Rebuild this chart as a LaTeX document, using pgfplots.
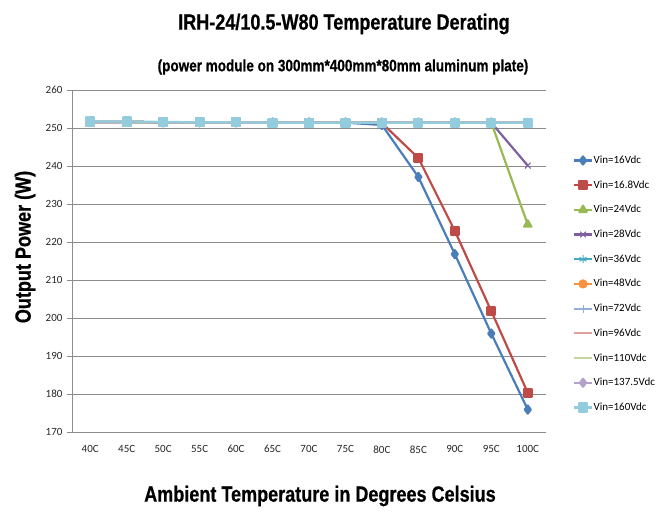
\documentclass[border=0pt]{standalone}
\usepackage{pgfplots}
\pgfplotsset{compat=1.18}
\usepackage{fontspec}
\setmainfont{Carlito}
\newfontfamily\cond[FakeStretch=0.82, BoldFeatures={FakeBold=0.6}]{Liberation Sans}
\definecolor{c1}{HTML}{4A7EBB}
\definecolor{c2}{HTML}{BE4B48}
\definecolor{c3}{HTML}{98B954}
\definecolor{c4}{HTML}{7D60A0}
\definecolor{c5}{HTML}{46AAC5}
\definecolor{c6}{HTML}{F69240}
\definecolor{c7}{HTML}{95AFD8}
\definecolor{c8}{HTML}{E0A09E}
\definecolor{c9}{HTML}{C3D69B}
\definecolor{c10}{HTML}{B3A2C7}
\definecolor{c11}{HTML}{93CDDD}
\definecolor{gridc}{HTML}{8C8C8C}
\begin{document}
\begin{tikzpicture}[x=1pt,y=1pt]
\path[use as bounding box] (0,0) rectangle (669,513);
\begin{axis}[
  at={(72pt,81pt)}, anchor=south west,
  scale only axis, width=474pt, height=342pt,
  xmin=-0.5, xmax=12.5, ymin=170, ymax=260,
  ytick distance=10,
  xtick={0,...,12},
  xticklabels={40C,45C,50C,55C,60C,65C,70C,75C,80C,85C,90C,95C,100C},
  major x tick style={draw=none},
  extra x ticks={-0.5,0.5,...,12.5},
  extra x tick style={xticklabel={}, major tick length=5pt, tick style={draw=gridc}, grid=none},
  axis lines*=left,
  axis line style={draw=gridc, line width=0.8pt},
  ymajorgrids, grid style={draw=gridc, line width=0.8pt},
  tick align=outside, major tick length=5pt,
  tick style={draw=gridc, line width=0.8pt},
  /pgf/number format/assume math mode=true,
  ticklabel style={font=\fontsize{11}{13}\selectfont, text=black!85},
  xticklabel style={yshift=-5pt},
  yticklabel style={xshift=-1pt},
  every axis plot/.append style={line width=2.2pt, line join=round},
  legend style={at={(1.051,0.818)}, anchor=north west, draw=none, fill=none,
    font=\fontsize{11}{13}\selectfont, row sep=12.7pt,
    nodes={inner sep=1pt, text height=8pt, text depth=2pt}},
  legend cell align=left,
  clip=false,
]
\addplot[color=c1, mark=diamond*, mark size=4pt, mark options={solid}] coordinates {
(0,251.6) (1,251.6) (2,251.5) (3,251.5) (4,251.5) (5,251.4) (6,251.4) (7,251.4) (8,250.8) (9,237.1) (10,216.8) (11,195.9) (12,175.9)};
\addlegendentry{Vin=16Vdc}
\addplot[color=c2, mark=square*, mark size=3.8pt] coordinates {
(0,251.6) (1,251.6) (2,251.5) (3,251.5) (4,251.5) (5,251.4) (6,251.4) (7,251.4) (8,251.3) (9,242.1) (10,222.9) (11,201.8) (12,180.3)};
\addlegendentry{Vin=16.8Vdc}
\addplot[color=c3, mark=triangle*, mark size=4.2pt] coordinates {
(0,251.6) (1,251.6) (2,251.5) (3,251.5) (4,251.5) (5,251.4) (6,251.4) (7,251.4) (8,251.4) (9,251.4) (10,251.4) (11,251.4) (12,224.6)};
\addlegendentry{Vin=24Vdc}
\addplot[color=c4, mark=x, mark size=4pt, mark options={line width=1pt}] coordinates {
(0,251.6) (1,251.6) (2,251.5) (3,251.5) (4,251.5) (5,251.4) (6,251.4) (7,251.4) (8,251.4) (9,251.4) (10,251.4) (11,251.4) (12,240.1)};
\addlegendentry{Vin=28Vdc}
\addplot[color=c5, mark=asterisk, mark size=4pt, mark options={line width=1pt}] coordinates {
(0,251.6) (1,251.6) (2,251.5) (3,251.5) (4,251.5) (5,251.4) (6,251.4) (7,251.4) (8,251.4) (9,251.4) (10,251.4) (11,251.4) (12,251.4)};
\addlegendentry{Vin=36Vdc}
\addplot[color=c6, mark=*, mark size=3.5pt] coordinates {
(0,251.6) (1,251.6) (2,251.5) (3,251.5) (4,251.5) (5,251.4) (6,251.4) (7,251.4) (8,251.4) (9,251.4) (10,251.4) (11,251.4) (12,251.4)};
\addlegendentry{Vin=48Vdc}
\addplot[color=c7, mark=+, mark size=4pt, mark options={line width=0.8pt}] coordinates {
(0,251.6) (1,251.6) (2,251.5) (3,251.5) (4,251.5) (5,251.4) (6,251.4) (7,251.4) (8,251.4) (9,251.4) (10,251.4) (11,251.4) (12,251.4)};
\addlegendentry{Vin=72Vdc}
\addplot[color=c8, mark=none] coordinates {
(0,251.6) (1,251.6) (2,251.5) (3,251.5) (4,251.5) (5,251.4) (6,251.4) (7,251.4) (8,251.4) (9,251.4) (10,251.4) (11,251.4) (12,251.4)};
\addlegendentry{Vin=96Vdc}
\addplot[color=c9, mark=none] coordinates {
(0,251.6) (1,251.6) (2,251.5) (3,251.5) (4,251.5) (5,251.4) (6,251.4) (7,251.4) (8,251.4) (9,251.4) (10,251.4) (11,251.4) (12,251.4)};
\addlegendentry{Vin=110Vdc}
\addplot[color=c10, mark=diamond*, mark size=4pt] coordinates {
(0,251.6) (1,251.6) (2,251.5) (3,251.5) (4,251.5) (5,251.4) (6,251.4) (7,251.4) (8,251.4) (9,251.4) (10,251.4) (11,251.4) (12,251.4)};
\addlegendentry{Vin=137.5Vdc}
\addplot[color=c11, mark=square*, mark size=4pt] coordinates {
(0,251.7) (1,251.7) (2,251.6) (3,251.5) (4,251.5) (5,251.4) (6,251.4) (7,251.4) (8,251.4) (9,251.4) (10,251.4) (11,251.4) (12,251.4)};
\addlegendentry{Vin=160Vdc}
\end{axis}
\node[font={\cond\bfseries\fontsize{22}{26}\selectfont}] at (344,489) {IRH-24/10.5-W80 Temperature Derating};
\node[font={\cond\bfseries\fontsize{16.5}{20}\selectfont}] at (343,446) {(power module on 300mm*400mm*80mm aluminum plate)};
\node[rotate=90, font={\cond\bfseries\fontsize{22}{26}\selectfont}] at (25,266) {Output Power (W)};
\node[font={\cond\bfseries\fontsize{22}{26}\selectfont}] at (320,17) {Ambient Temperature in Degrees Celsius};
\end{tikzpicture}
\end{document}
